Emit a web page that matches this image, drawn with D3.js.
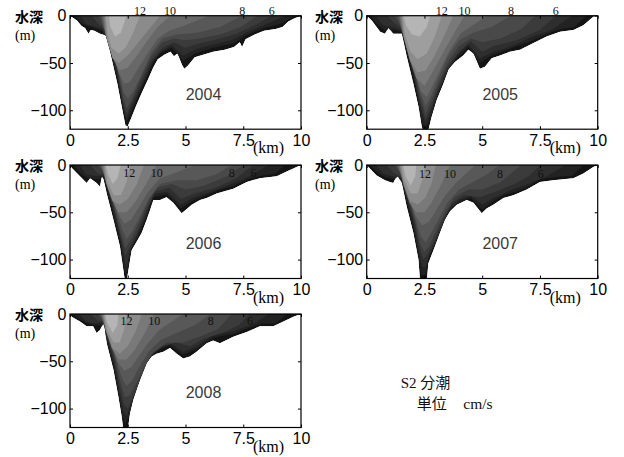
<!DOCTYPE html>
<html>
<head>
<meta charset="utf-8">
<script src="https://cdn.jsdelivr.net/npm/d3@7"></script>
<style>
  body { margin: 0; background: #fff; }
  #chart { width: 624px; height: 457px; }
</style>
</head>
<body>
<div id="chart"></div>
<script>
// axis ticks
const xTicks = [0, 2.5, 5, 7.5, 10];
const xTickLabels = ['0', '2.5', '5', '7.5', '10'];
const yTicks = [-100, -50, 0];

// contour levels (cm/s) and their grey fill, darkest first
const levels = [4, 5, 6, 7, 8, 9, 10, 11, 12, 13];
const greys = ['#222222', '#2e2e2e', '#3b3b3b', '#494949', '#585858',
  '#686868', '#797979', '#8b8b8b', '#9e9e9e', '#b5b5b5'];
const baseGrey = '#141414';

// bottom profile [km, depth m]
const bathy2004 = [[0,0],[0.3,5],[0.5,11],[0.65,13],[0.8,19],[0.9,15],[1.05,16],[1.3,19],[1.55,21],[1.75,40],[2.05,72],[2.27,100],[2.4,116],[2.5,117],[2.62,110],[2.85,96],[3.1,82],[3.4,66],[3.6,55],[3.8,46],[4.1,41],[4.35,38],[4.5,43],[4.65,40],[4.85,52],[4.95,56],[5.1,53],[5.4,44],[5.8,41],[6.2,38],[6.7,36],[7.1,33],[7.35,28],[7.45,33],[7.6,25],[8.0,20],[8.4,16],[8.9,14],[9.2,12],[9.45,6],[9.7,3],[10,0]];
const bathy2005 = [[0,0],[0.22,5],[0.58,17],[0.79,19],[0.94,13],[1.15,19],[1.4,19],[1.52,19],[1.73,43],[2.02,72],[2.24,96],[2.38,117],[2.45,123],[2.65,123],[2.81,107],[3.03,89],[3.32,72],[3.54,57],[3.82,49],[4.18,42],[4.4,36],[4.62,40],[4.9,56],[5.12,54],[5.41,45],[5.77,42],[6.2,38],[6.64,36],[7.2,29],[7.79,22],[8.37,17],[8.95,15],[9.38,10],[9.81,1],[10,0]];
const bathy2006 = [[0,0],[0.07,3],[0.43,12],[0.72,19],[0.87,14],[1.15,19],[1.3,23],[1.38,12],[1.45,15],[1.59,30],[1.88,58],[2.16,86],[2.31,111],[2.38,123],[2.45,123],[2.53,111],[2.67,90],[2.89,81],[3.1,72],[3.32,58],[3.46,48],[3.61,37],[3.9,37],[4.18,34],[4.47,40],[4.83,51],[4.98,48],[5.27,42],[5.63,37],[5.92,35],[6.35,30],[7.07,25],[7.65,18],[8.22,14],[8.95,12],[9.38,7],[9.81,2],[10,0]];
const bathy2007 = [[0,0],[0.07,2],[0.43,11],[0.79,16],[1.0,18],[1.15,19],[1.25,14],[1.35,12],[1.52,19],[1.73,44],[2.02,72],[2.24,100],[2.31,123],[2.6,123],[2.67,104],[2.89,90],[3.17,72],[3.39,58],[3.61,49],[3.9,42],[4.33,37],[4.62,40],[4.98,51],[5.19,46],[5.48,42],[5.92,35],[6.35,32],[6.93,26],[7.5,18],[8.08,16],[8.95,14],[9.38,9],[9.81,2],[10,0]];
const bathy2008 = [[0,0],[0.07,3],[0.43,8],[0.72,13],[1.0,13],[1.15,20],[1.3,17],[1.44,10],[1.5,14],[1.59,31],[1.88,59],[2.09,87],[2.24,109],[2.31,123],[2.5,123],[2.6,105],[2.74,91],[3.03,70],[3.32,52],[3.54,45],[3.75,42],[4.04,40],[4.33,36],[4.62,42],[4.9,47],[5.19,45],[5.48,40],[5.92,31],[6.2,28],[6.49,31],[7.07,24],[7.65,19],[8.22,13],[8.8,13],[9.24,8],[9.67,3],[10,0]];

// lower edge of each contour band (value above level), one list per level
const bands2004 = [
  [[0.2,0],[0.5,8],[0.9,12],[1.4,16],[1.7,34],[2.05,66],[2.3,100],[2.45,112],[2.6,105],[3.1,77],[3.6,50],[3.9,40],[4.4,34],[4.9,48],[5.4,40],[6.2,34],[7.1,29],[7.6,21],[8.4,13],[9.2,8],[9.7,0]],
  [[0.45,0],[0.7,9],[1.0,11],[1.4,14],[1.7,30],[2.05,62],[2.3,96],[2.45,108],[2.6,100],[3.1,74],[3.6,47],[4.0,37],[4.4,31],[4.9,42],[5.5,35],[6.3,30],[7.1,25],[7.7,17],[8.4,10],[9.3,0]],
  [[0.95,0],[1.2,8],[1.4,12],[1.65,26],[2.05,58],[2.3,92],[2.45,104],[2.6,96],[3.0,75],[3.5,48],[4.0,34],[4.5,28],[5.0,34],[5.5,30],[6.4,25],[7.2,19],[8.0,10],[8.73,0]],
  [[1.25,0],[1.4,10],[1.65,24],[2.05,55],[2.3,86],[2.45,98],[2.65,90],[3.0,70],[3.5,44],[4.0,28],[4.5,24],[5.0,26],[5.6,24],[6.5,20],[7.4,12],[8.1,0]],
  [[1.35,0],[1.45,12],[1.7,26],[2.05,52],[2.3,80],[2.5,88],[2.75,80],[3.1,62],[3.5,40],[4.0,24],[4.6,20],[5.5,18],[6.5,12],[7.46,0]],
  [[1.4,0],[1.5,15],[1.8,35],[2.1,60],[2.35,72],[2.6,70],[2.9,58],[3.3,42],[3.8,24],[4.3,16],[5.0,10],[6.0,0]],
  [[1.45,0],[1.55,22],[1.85,45],[2.15,58],[2.5,55],[2.9,42],[3.3,28],[3.8,12],[4.33,0]],
  [[1.5,0],[1.6,25],[1.85,45],[2.1,50],[2.5,42],[2.9,30],[3.3,18],[3.9,0]],
  [[1.55,0],[1.62,18],[1.8,34],[2.1,40],[2.4,34],[2.7,20],[3.03,0]],
  [[1.68,0],[1.75,12],[1.95,22],[2.2,18],[2.45,0]]
];
const bands2005 = [
  [[0.15,0],[0.4,8],[0.75,15],[1.2,15],[1.5,17],[1.75,40],[2.05,68],[2.25,92],[2.4,114],[2.55,118],[2.7,112],[2.85,102],[3.05,86],[3.35,68],[3.6,54],[3.9,45],[4.4,33],[4.9,50],[5.4,42],[6.2,35],[7.2,26],[7.8,19],[8.4,14],[9.0,12],[9.5,0]],
  [[0.4,0],[0.7,10],[1.1,12],[1.5,15],[1.75,36],[2.05,64],[2.3,95],[2.55,115],[2.8,100],[3.1,80],[3.5,58],[3.9,42],[4.4,30],[4.9,45],[5.5,38],[6.3,32],[7.2,22],[8.0,15],[8.9,0]],
  [[0.9,0],[1.2,8],[1.45,12],[1.72,32],[2.05,60],[2.3,90],[2.55,110],[2.8,96],[3.1,76],[3.5,54],[4.0,38],[4.5,27],[5.0,38],[5.5,32],[6.5,26],[7.5,15],[8.18,0]],
  [[1.2,0],[1.45,10],[1.72,30],[2.05,56],[2.3,84],[2.55,104],[2.8,90],[3.1,72],[3.5,50],[4.0,32],[4.5,24],[5.0,28],[5.8,24],[6.7,14],[7.3,0]],
  [[1.35,0],[1.5,14],[1.75,32],[2.05,54],[2.3,80],[2.55,96],[2.8,84],[3.1,66],[3.5,44],[4.0,26],[4.6,18],[5.4,12],[6.25,0]],
  [[1.4,0],[1.55,18],[1.8,40],[2.1,62],[2.35,80],[2.6,86],[2.85,74],[3.2,56],[3.6,36],[4.1,18],[4.6,10],[5.2,0]],
  [[1.45,0],[1.6,22],[1.85,46],[2.15,66],[2.5,74],[2.8,62],[3.2,44],[3.7,22],[4.23,0]],
  [[1.5,0],[1.62,24],[1.9,48],[2.2,60],[2.55,58],[2.9,44],[3.3,24],[3.75,0]],
  [[1.55,0],[1.65,20],[1.9,38],[2.2,46],[2.6,40],[2.95,22],[3.25,0]],
  [[1.6,0],[1.7,10],[1.95,20],[2.3,22],[2.6,12],[2.75,0]]
];
const bands2006 = [
  [[0.15,0],[0.45,9],[0.75,14],[1.2,15],[1.45,13],[1.62,28],[1.9,55],[2.18,82],[2.33,108],[2.42,116],[2.52,108],[2.66,88],[2.9,78],[3.3,56],[3.6,34],[4.2,31],[4.8,46],[5.3,38],[5.9,32],[6.4,27],[7.1,22],[7.7,15],[8.3,11],[8.9,9],[9.3,0]],
  [[0.4,0],[0.7,10],[1.15,12],[1.45,11],[1.64,26],[1.92,52],[2.2,80],[2.35,100],[2.45,108],[2.6,90],[2.9,75],[3.3,52],[3.6,31],[4.2,28],[4.8,42],[5.3,35],[6.0,29],[6.8,22],[7.6,14],[8.6,0]],
  [[0.9,0],[1.2,9],[1.45,10],[1.65,24],[1.95,50],[2.2,76],[2.4,96],[2.6,86],[2.9,72],[3.3,48],[3.7,28],[4.3,24],[4.8,36],[5.4,30],[6.3,24],[7.2,14],[7.94,0]],
  [[1.2,0],[1.4,6],[1.66,22],[1.95,48],[2.2,72],[2.4,88],[2.6,80],[2.9,66],[3.3,44],[3.7,24],[4.4,20],[5.0,26],[5.8,22],[6.8,12],[7.5,0]],
  [[1.3,0],[1.45,8],[1.7,24],[2.0,48],[2.25,68],[2.45,78],[2.7,70],[3.0,56],[3.4,36],[3.9,20],[4.6,16],[5.5,16],[6.3,10],[7.0,0]],
  [[1.35,0],[1.5,12],[1.75,30],[2.05,50],[2.35,62],[2.65,58],[3.0,44],[3.4,28],[3.9,14],[4.6,8],[5.4,0]],
  [[1.4,0],[1.55,18],[1.8,36],[2.1,50],[2.45,50],[2.8,40],[3.2,24],[3.75,0]],
  [[1.45,0],[1.58,20],[1.85,38],[2.15,42],[2.5,36],[2.9,20],[3.2,0]],
  [[1.5,0],[1.62,18],[1.9,32],[2.2,32],[2.45,18],[2.6,0]],
  [[1.55,0],[1.65,10],[1.85,20],[2.05,14],[2.2,0]]
];
const bands2007 = [
  [[0.15,0],[0.45,8],[0.8,13],[1.2,15],[1.5,16],[1.75,40],[2.03,68],[2.25,96],[2.35,116],[2.55,116],[2.65,100],[2.9,86],[3.2,68],[3.45,54],[3.7,45],[4.1,38],[4.5,35],[5.0,47],[5.5,38],[6.0,31],[6.5,28],[7.0,23],[7.5,15],[8.1,13],[8.9,11],[9.4,0]],
  [[0.4,0],[0.7,9],[1.1,12],[1.5,14],[1.76,37],[2.05,64],[2.27,92],[2.4,108],[2.55,108],[2.7,96],[3.0,80],[3.3,62],[3.6,46],[4.0,37],[4.5,32],[5.0,42],[5.5,35],[6.2,27],[7.0,20],[7.8,12],[8.6,0]],
  [[0.85,0],[1.2,9],[1.5,12],[1.77,34],[2.07,60],[2.3,88],[2.45,100],[2.65,94],[3.0,76],[3.35,56],[3.7,40],[4.2,32],[4.9,34],[5.6,28],[6.4,20],[7.0,12],[7.53,0]],
  [[1.2,0],[1.5,10],[1.78,32],[2.08,58],[2.32,84],[2.5,92],[2.7,86],[3.0,70],[3.4,50],[3.8,34],[4.4,26],[5.0,26],[5.8,18],[6.7,0]],
  [[1.3,0],[1.52,12],[1.8,32],[2.1,56],[2.35,76],[2.55,82],[2.8,72],[3.1,58],[3.5,40],[4.0,26],[4.6,18],[5.2,10],[5.77,0]],
  [[1.35,0],[1.55,16],[1.82,36],[2.12,54],[2.4,64],[2.7,60],[3.0,48],[3.4,32],[3.9,18],[4.7,0]],
  [[1.4,0],[1.58,20],[1.85,40],[2.15,50],[2.5,50],[2.8,40],[3.2,22],[3.6,0]],
  [[1.45,0],[1.6,20],[1.88,38],[2.2,42],[2.55,34],[2.8,20],[3.0,0]],
  [[1.5,0],[1.62,16],[1.9,30],[2.2,30],[2.4,16],[2.53,0]],
  [[1.58,0],[1.68,12],[1.9,22],[2.1,12],[2.15,0]]
];
const bands2008 = [
  [[0.15,0],[0.45,6],[0.75,10],[1.1,12],[1.35,12],[1.62,30],[1.9,56],[2.1,84],[2.27,108],[2.4,116],[2.55,108],[2.75,88],[3.05,67],[3.35,49],[3.7,40],[4.3,33],[4.9,43],[5.5,37],[6.2,25],[7.1,21],[7.7,15],[8.3,10],[8.9,10],[9.4,0]],
  [[0.4,0],[0.7,8],[1.1,10],[1.35,9],[1.64,28],[1.92,53],[2.12,80],[2.3,102],[2.45,108],[2.6,98],[2.8,84],[3.1,64],[3.4,47],[3.8,38],[4.3,30],[4.9,40],[5.5,34],[6.2,22],[7.1,18],[7.9,11],[8.6,0]],
  [[0.9,0],[1.2,7],[1.4,8],[1.66,26],[1.94,50],[2.15,76],[2.33,96],[2.5,100],[2.65,92],[2.9,78],[3.2,60],[3.5,44],[4.0,34],[4.6,30],[5.2,34],[5.8,26],[6.6,20],[7.3,12],[7.79,0]],
  [[1.2,0],[1.42,7],[1.68,24],[1.96,48],[2.18,72],[2.38,88],[2.6,86],[2.9,72],[3.2,56],[3.6,40],[4.2,30],[4.9,30],[5.6,24],[6.4,16],[7.0,0]],
  [[1.3,0],[1.45,9],[1.72,26],[2.0,48],[2.25,68],[2.45,76],[2.7,70],[3.0,56],[3.4,40],[3.9,28],[4.6,20],[5.4,12],[6.09,0]],
  [[1.35,0],[1.5,12],[1.76,30],[2.05,50],[2.35,60],[2.65,56],[3.0,44],[3.4,30],[3.9,16],[4.9,0]],
  [[1.4,0],[1.54,16],[1.8,36],[2.1,48],[2.45,48],[2.8,38],[3.2,22],[3.65,0]],
  [[1.43,0],[1.56,18],[1.84,36],[2.15,42],[2.5,34],[2.85,18],[3.1,0]],
  [[1.47,0],[1.6,16],[1.88,30],[2.15,30],[2.35,16],[2.45,0]],
  [[1.52,0],[1.62,10],[1.85,20],[2.05,12],[2.1,0]]
];

// contour labels [value, km]
const labels2004 = [[12,3.03],[10,4.33],[8,7.46],[6,8.73]];
const labels2005 = [[12,3.25],[10,4.23],[8,6.25],[6,8.18]];
const labels2006 = [[12,2.57],[10,3.75],[8,7.0],[6,7.94]];
const labels2007 = [[12,2.52],[10,3.61],[8,5.77],[6,7.53]];
const labels2008 = [[12,2.45],[10,3.65],[8,6.09],[6,7.79]];

const panels = [
  { year: '2004', bathy: bathy2004, bands: bands2004, labels: labels2004, labelDepth: -0.5, x0: 70, y0: 15.7, lx: 15 },
  { year: '2005', bathy: bathy2005, bands: bands2005, labels: labels2005, labelDepth: -0.5, x0: 366.7, y0: 15.7, lx: 315 },
  { year: '2006', bathy: bathy2006, bands: bands2006, labels: labels2006, labelDepth: 12.5, x0: 70, y0: 165, lx: 15 },
  { year: '2007', bathy: bathy2007, bands: bands2007, labels: labels2007, labelDepth: 13.5, x0: 366.7, y0: 165, lx: 315 },
  { year: '2008', bathy: bathy2008, bands: bands2008, labels: labels2008, labelDepth: 11.5, x0: 70, y0: 314, lx: 15 },
];

const W = 624;
const H = 457;
const pw = 231;
const ph = 113.5;
const sans = '"Liberation Sans", Arial, sans-serif';
const serif = '"Liberation Serif", "Noto Sans CJK JP", serif';
const cjk = '"Noto Sans CJK JP", sans-serif';

const svg = d3
  .select('#chart')
  .append('svg')
  .attr('width', W)
  .attr('height', H);

const x = d3.scaleLinear().domain([0, 10]).range([0, pw]);
const y = d3.scaleLinear().domain([-120, 0]).range([ph, 0]);
const line = d3
  .line()
  .x(d => x(d[0]))
  .y(d => y(-d[1]));

panels.forEach((p, i) => {
  const g = svg
    .append('g')
    .attr('transform', 'translate(' + p.x0 + ',' + p.y0 + ')');

  // clip to plot box, then to the sea bed
  g.append('clipPath')
    .attr('id', 'box' + i)
    .append('rect')
    .attr('width', pw)
    .attr('height', ph);
  g.append('clipPath')
    .attr('id', 'sea' + i)
    .append('path')
    .attr('d', line(p.bathy) + 'Z');

  const inner = g
    .append('g')
    .attr('clip-path', 'url(#box' + i + ')')
    .append('g')
    .attr('clip-path', 'url(#sea' + i + ')');

  inner
    .append('path')
    .attr('d', line(p.bathy) + 'Z')
    .attr('fill', baseGrey);

  inner
    .selectAll('.band')
    .data(p.bands)
    .enter()
    .append('path')
    .attr('class', 'band')
    .attr('d', d => line(d) + 'Z')
    .attr('fill', (d, j) => greys[j]);

  // axes with inward ticks
  const xb = g
    .append('g')
    .attr('transform', 'translate(0,' + ph + ')')
    .call(
      d3
        .axisBottom(x)
        .tickValues(xTicks)
        .tickSize(-3)
        .tickPadding(5.5)
        .tickFormat((d, k) => xTickLabels[k]),
    );
  g.append('g').call(
    d3.axisTop(x).tickValues(xTicks).tickSize(-3).tickFormat(''),
  );
  const yl = g.append('g').call(
    d3
      .axisLeft(y)
      .tickValues(yTicks)
      .tickSize(-3)
      .tickPadding(3.5)
      .tickFormat(d => (d < 0 ? '\u2212' + -d : d)),
  );
  g.append('g')
    .attr('transform', 'translate(' + pw + ',0)')
    .call(d3.axisRight(y).tickValues(yTicks).tickSize(-3).tickFormat(''));

  g.selectAll('.domain').remove();
  g.selectAll('.tick line').attr('stroke', '#000').attr('stroke-width', 1);
  [xb, yl].forEach(a =>
    a
      .selectAll('text')
      .attr('font-family', sans)
      .attr('font-size', 16)
      .attr('fill', '#000'),
  );

  g.append('rect')
    .attr('width', pw)
    .attr('height', ph)
    .attr('fill', 'none')
    .attr('stroke', '#000')
    .attr('stroke-width', 1.2);

  // contour labels
  g.selectAll('.clab')
    .data(p.labels)
    .enter()
    .append('text')
    .attr('class', 'clab')
    .attr('x', d => x(d[1]))
    .attr('y', y(-p.labelDepth))
    .attr('text-anchor', 'middle')
    .attr('font-family', serif)
    .attr('font-size', 12)
    .attr('fill', '#111')
    .text(d => d[0]);

  g.append('text')
    .attr('x', x(5.78))
    .attr('y', 84.3)
    .attr('text-anchor', 'middle')
    .attr('font-family', sans)
    .attr('font-size', 16)
    .attr('fill', '#3a3a3a')
    .text(p.year);

  g.append('text')
    .attr('x', 183)
    .attr('y', ph + 24)
    .attr('font-family', serif)
    .attr('font-size', 16)
    .attr('fill', '#000')
    .text('(km)');

  svg
    .append('text')
    .attr('x', p.lx)
    .attr('y', p.y0 + 6)
    .attr('font-family', cjk)
    .attr('font-weight', 'bold')
    .attr('font-size', 14)
    .attr('fill', '#000')
    .text('水深');
  svg
    .append('text')
    .attr('x', p.lx)
    .attr('y', p.y0 + 24)
    .attr('font-family', serif)
    .attr('font-size', 14)
    .attr('fill', '#000')
    .text('(m)');
});

// note text
svg
  .append('text')
  .attr('x', 400.7)
  .attr('y', 388)
  .attr('font-family', serif)
  .attr('font-size', 15)
  .attr('fill', '#111')
  .text('S2 分潮');
svg
  .append('text')
  .attr('x', 416.7)
  .attr('y', 409)
  .attr('font-family', serif)
  .attr('font-size', 15)
  .attr('fill', '#111')
  .text('単位');
svg
  .append('text')
  .attr('x', 463.3)
  .attr('y', 409)
  .attr('font-family', serif)
  .attr('font-size', 15.5)
  .attr('fill', '#111')
  .text('cm/s');
</script>
</body>
</html>
